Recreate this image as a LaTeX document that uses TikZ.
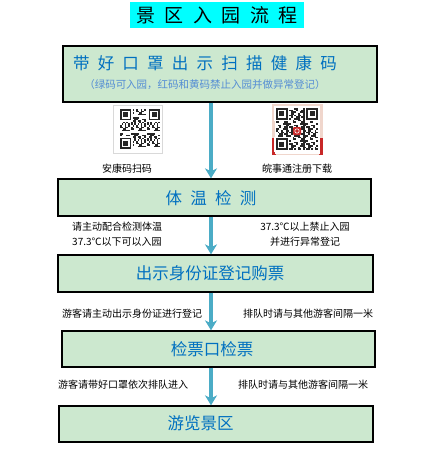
\documentclass[tikz,border=0pt]{standalone}
\usepackage{fontspec}
\usepackage{tikz}
\usetikzlibrary{arrows.meta}
\newfontfamily\cjk{Noto Sans CJK SC}
\definecolor{boxgreen}{RGB}{204,232,207}
\definecolor{textblue}{RGB}{0,112,192}
\definecolor{subblue}{RGB}{84,141,212}
\definecolor{flowblue}{RGB}{75,172,198}
\definecolor{titlecyan}{RGB}{0,255,255}
\definecolor{qrframe}{RGB}{240,214,204}
\definecolor{qrred}{RGB}{200,40,40}
\newcommand\wgap{\hspace{0.5em}}
% a QR-like grid: corner #1,#2, module #3, seed #4
\newcommand\qrpattern[4]{%
  \foreach \i in {0,...,24}{%
    \foreach \j in {0,...,24}{%
      \pgfmathtruncatemacro\qbit{mod(3*\i*\i+5*\j*\j+7*\i*\j+11*\i+13*\j+#4,10)<5}%
      \ifnum\qbit=1 \fill[black!85] ({#1+\i*#3},{#2+\j*#3}) rectangle +(#3,#3);\fi
    }}%
  \foreach \cx/\cy in {0/0,18/0,0/18}{%
    \fill[white] ({#1+(\cx-1)*#3},{#2+(\cy-1)*#3}) rectangle +({9*#3},{9*#3});
    \fill[black!85] ({#1+\cx*#3},{#2+\cy*#3}) rectangle +({7*#3},{7*#3});
    \fill[white] ({#1+(\cx+1)*#3},{#2+(\cy+1)*#3}) rectangle +({5*#3},{5*#3});
    \fill[black!85] ({#1+(\cx+2)*#3},{#2+(\cy+2)*#3}) rectangle +({3*#3},{3*#3});
  }}

\begin{document}
\begin{tikzpicture}[x=1pt,y=-1pt,
    box/.style={draw=black,line width=1.3pt,fill=boxgreen,inner sep=0pt},
    flow/.style={draw=flowblue,line width=3.5pt,-{Stealth[length=10pt,width=12pt,inset=3pt]}},
    big/.style={font=\cjk\fontsize{16.5}{18}\selectfont,text=textblue,inner sep=0pt},
    note/.style={font=\cjk\fontsize{10}{12}\selectfont,inner sep=0pt}]
    \useasboundingbox (0,0) rectangle (421,472);

    \node[fill=titlecyan,minimum width=174pt,minimum height=26pt,inner sep=0pt,
      font=\cjk\fontsize{19}{21}\selectfont] (title) at (217,15)
      {景\wgap 区\wgap 入\wgap 园\wgap 流\wgap 程};

    % boxes
    \node[box,minimum width=314pt,minimum height=56pt] (mask) at (220,74) {};
    \node[box,minimum width=313pt,minimum height=37pt] (temp) at (214.5,197.5) {};
    \node[box,minimum width=315pt,minimum height=37pt] (ticket) at (215.5,273.5) {};
    \node[box,minimum width=313pt,minimum height=36pt] (check) at (218.5,349) {};
    \node[box,minimum width=314pt,minimum height=36pt] (tour) at (216,424) {};

    \node[big] (masktext) at (205,63)
      {带\wgap 好\wgap 口\wgap 罩\wgap 出\wgap 示\wgap 扫\wgap 描\wgap 健\wgap 康\wgap 码};
    \node[note,font=\cjk\fontsize{10.5}{12}\selectfont,text=subblue] (masknote) at (205,85)
      {（绿码可入园，红码和黄码禁止入园并做异常登记）};
    \node[big] (temptext) at (211,198) {体\wgap 温\wgap 检\wgap 测};
    \node[big] (tickettext) at (210,273.5) {出示身份证登记购票};
    \node[big] (checktext) at (212,349) {检票口检票};
    \node[big] (tourtext) at (200.5,423) {游览景区};

    % flow
    \coordinate (axis) at (211,0);
    \draw[flow] (mask.south -| axis) -- (temp.north -| axis);
    \draw[flow] (temp.south -| axis) -- (ticket.north -| axis);
    \draw[flow] (ticket.south -| axis) -- (check.north -| axis);
    \draw[flow] (check.south -| axis) -- (tour.north -| axis);

    % codes
    \draw[black!15] (113,105) rectangle (162,153);
    \qrpattern{120}{109}{1.6}{3}
    \fill[qrframe] (272,104) rectangle (323,155);
    \fill[qrred] (272,138) rectangle (276,155);
    \fill[qrred] (319,138) rectangle (323,155);
    \fill[white] (275,106) rectangle (320,154);
    \qrpattern{276}{108}{1.68}{7}
    \fill[qrred,rounded corners=1pt] (293,127) rectangle (301,135);
    \draw[white,line width=0.6pt] (297,131) circle (2.2pt);

    \node[note] (ahk) at (127,169) {安康码扫码};
    \node[note] (wst) at (297,169) {皖事通注册下载};

    % notes
    \node[note,anchor=west] (templ1) at (72,227) {请主动配合检测体温};
    \node[note,anchor=west] (templ2) at (72,242) {37.3℃以下可以入园};
    \node[note] (tempr1) at (305,227) {37.3℃以上禁止入园};
    \node[note] (tempr2) at (305,242) {并进行异常登记};
    \node[note,anchor=west] (ticketl) at (62,314) {游客请主动出示身份证进行登记};
    \node[note,anchor=west] (ticketr) at (243,314) {排队时请与其他游客间隔一米};
    \node[note,anchor=west] (checkl) at (58,385) {游客请带好口罩依次排队进入};
    \node[note,anchor=west] (checkr) at (238,385) {排队时请与其他游客间隔一米};
\end{tikzpicture}
\end{document}
